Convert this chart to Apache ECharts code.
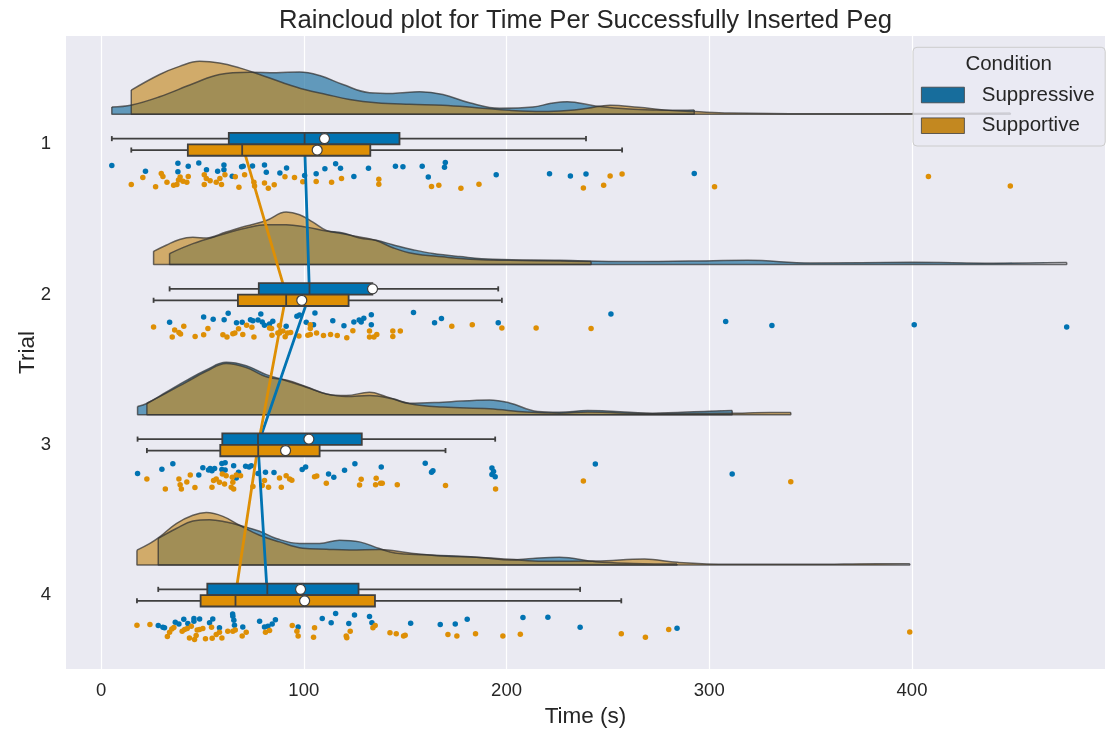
<!DOCTYPE html>
<html>
<head>
<meta charset="utf-8">
<title>Raincloud plot</title>
<script src="https://cdn.jsdelivr.net/npm/echarts@6/dist/echarts.min.js"></script>
<style>
  html, body { margin: 0; padding: 0; background: #ffffff; }
  #chart { width: 1107px; height: 733px; }
</style>
</head>
<body>
<div id="chart"></div>
<script>
// ---- data ---------------------------------------------------------------
const trials = ['1', '2', '3', '4'];
const timeTicks = [0, 100, 200, 300, 400];
const conditions = ['Suppressive', 'Supportive'];

// box statistics per trial: [lower whisker, Q1, median, Q3, upper whisker]
const suppressiveBox = [
  [5.3, 63.0, 100.4, 147.2, 239.2],
  [33.8, 77.8, 102.8, 133.8, 195.9],
  [18.0, 59.8, 77.4, 128.6, 194.4],
  [28.2, 52.4, 82.0, 127.0, 236.3]
];
const supportiveBox = [
  [14.9, 42.8, 69.6, 132.8, 257.0],
  [25.9, 67.5, 91.3, 122.1, 197.7],
  [22.6, 58.8, 77.5, 107.8, 169.9],
  [17.7, 49.1, 66.3, 135.1, 256.6]
];
const suppressiveMean = [110.2, 133.9, 102.5, 98.4];
const supportiveMean = [106.6, 99.0, 91.0, 100.4];

// half-violin density outline per trial: [time, density height in trial units]
const suppressiveCloud = [
  [[5.3,.048],[15.2,.062],[28.9,.117],[45.3,.203],[58.4,.265],[73.2,.280],[86.4,.276],[97.9,.282],[107.8,.258],[119.3,.198],[132.4,.144],[143.9,.139],[157.1,.150],[168.6,.132],[181.7,.077],[196.6,.040],[213.0,.048],[222.0,.073],[230.0,.084],[243.8,.055],[262.6,.033],[281.5,.026],[292.6,.028]],
  [[33.8,.073],[45.3,.139],[58.4,.194],[71.6,.243],[81.5,.265],[91.3,.265],[101.2,.249],[111.1,.223],[119.3,.210],[127.5,.177],[135.7,.161],[143.9,.132],[153.8,.099],[163.7,.073],[176.8,.053],[193.3,.035],[226.1,.028],[260.0,.020],[290.0,.023],[319.0,.028],[350.0,.010],[400.0,.015],[440.0,.009],[476.3,.013]],
  [[18.0,.055],[22.8,.077],[32.1,.150],[41.9,.227],[51.9,.298],[61.7,.349],[71.6,.326],[81.5,.267],[91.3,.227],[101.2,.183],[111.1,.139],[120.9,.121],[132.4,.128],[143.9,.106],[152.2,.077],[168.6,.084],[191.6,.099],[201.5,.079],[215.3,.022],[226.0,.017],[240.0,.028],[272.0,.011],[300.0,.024],[311.3,.028]],
  [[28.2,.177],[37.1,.243],[45.3,.293],[53.5,.302],[61.7,.286],[69.9,.258],[78.2,.225],[86.4,.177],[97.9,.144],[107.8,.144],[117.6,.165],[127.5,.154],[137.3,.110],[145.0,.080],[160.0,.068],[175.0,.060],[190.0,.047],[201.5,.033],[213.0,.044],[226.1,.051],[244.0,.022],[262.6,.011],[284.1,.007]]
];
const supportiveCloud = [
  [[14.9,.161],[28.9,.265],[38.7,.319],[48.6,.353],[58.4,.342],[68.3,.309],[78.2,.265],[89.7,.210],[100.4,.165],[111.1,.132],[122.6,.099],[135.7,.077],[152.2,.066],[168.6,.060],[185.1,.044],[201.5,.026],[217.9,.018],[230.0,.025],[240.0,.040],[251.0,.060],[265.0,.046],[280.0,.026],[292.6,.018],[310.0,.008],[350.0,.003],[400.0,.005],[430.0,.007],[448.5,.008]],
  [[25.9,.088],[32.1,.128],[38.7,.167],[45.3,.181],[51.9,.177],[61.7,.216],[71.6,.256],[81.5,.293],[91.3,.349],[97.9,.331],[104.5,.282],[111.1,.227],[119.3,.205],[127.5,.183],[135.7,.160],[143.9,.112],[153.8,.073],[168.6,.051],[185.1,.033],[201.5,.028],[226.1,.023],[241.7,.020]],
  [[22.6,.077],[32.1,.144],[41.9,.216],[51.9,.289],[61.7,.342],[71.6,.315],[81.5,.253],[91.3,.231],[101.2,.187],[111.1,.139],[120.9,.128],[132.4,.150],[140.6,.121],[152.2,.073],[168.6,.051],[191.6,.040],[209.7,.018],[226.1,.011],[240.0,.018],[272.0,.007],[310.0,.010],[330.0,.015],[340.2,.015]],
  [[17.7,.099],[24.1,.144],[28.9,.187],[37.1,.276],[45.3,.331],[51.9,.349],[60.1,.324],[68.3,.265],[78.2,.198],[88.0,.154],[99.5,.112],[111.1,.105],[122.6,.100],[137.3,.104],[152.2,.080],[168.6,.060],[185.1,.051],[201.5,.038],[217.9,.025],[244.0,.026],[268.0,.040],[284.3,.018],[310.0,.005],[350.0,.005],[383.0,.009],[398.9,.009]]
];

// raw observations per trial: [time, strip jitter in trial units]
const suppressiveRain = [
  [[5.3,.141],[21.9,.179],[37.9,.126],[37.9,.183],[43.0,.146],[48.2,.124],[52.0,.170],[57.5,.179],[60.6,.137],[60.6,.170],[64.7,.212],[69.3,.150],[70.1,.146],[74.7,.144],[80.6,.137],[81.5,.185],[88.2,.190],[91.5,.157],[100.4,.207],[106.1,.196],[110.4,.163],[115.7,.130],[118.1,.159],[124.7,.214],[131.9,.159],[145.2,.146],[148.9,.150],[158.4,.146],[161.4,.218],[169.4,.152],[169.8,.121],[194.9,.203],[221.2,.196],[231.5,.210],[239.2,.198],[292.6,.194]],
  [[33.8,.184],[50.6,.149],[55.3,.164],[60.7,.167],[62.7,.124],[66.8,.187],[69.6,.184],[73.7,.167],[74.9,.175],[77.4,.169],[78.8,.129],[79.5,.182],[80.6,.204],[83.1,.195],[84.7,.177],[91.3,.210],[96.6,.144],[97.9,.136],[101.2,.184],[104.8,.200],[105.5,.122],[114.3,.175],[119.8,.208],[124.7,.182],[127.3,.169],[128.3,.182],[129.6,.157],[133.3,.134],[133.3,.200],[154.1,.120],[164.5,.187],[167.9,.160],[195.9,.188],[251.5,.129],[308.1,.180],[330.9,.206],[401.1,.200],[476.3,.215]],
  [[18.0,.190],[30.0,.163],[35.4,.126],[48.2,.201],[50.2,.152],[53.0,.168],[53.8,.157],[54.7,.172],[56.0,.157],[59.6,.124],[59.6,.165],[61.2,.119],[61.2,.168],[65.4,.139],[66.7,.221],[67.8,.183],[71.3,.142],[73.0,.148],[74.1,.139],[77.4,.190],[81.1,.183],[85.3,.185],[99.2,.165],[100.9,.148],[112.2,.194],[114.8,.216],[120.1,.170],[125.2,.126],[138.2,.148],[159.9,.122],[163.0,.183],[163.7,.172],[192.8,.155],[192.8,.198],[193.6,.177],[194.4,.212],[243.8,.128],[311.3,.194]],
  [[28.2,.202],[30.5,.214],[31.3,.218],[36.6,.181],[38.4,.192],[40.8,.161],[42.8,.189],[45.8,.156],[45.8,.174],[48.6,.159],[53.5,.185],[55.1,.159],[58.4,.218],[64.9,.126],[65.0,.141],[65.5,.167],[65.8,.200],[69.9,.212],[78.2,.174],[80.6,.212],[82.3,.207],[84.4,.192],[86.0,.165],[97.2,.212],[109.1,.156],[113.5,.185],[115.7,.123],[122.2,.189],[125.0,.132],[132.4,.143],[133.6,.185],[152.7,.187],[167.3,.196],[174.7,.192],[180.6,.161],[208.1,.149],[220.4,.147],[236.3,.214],[284.1,.220]]
];
const supportiveRain = [
  [[14.9,.267],[20.6,.220],[26.9,.282],[29.7,.194],[30.5,.214],[32.5,.253],[35.8,.273],[37.4,.267],[38.2,.238],[39.0,.218],[40.4,.245],[42.3,.253],[43.0,.214],[50.9,.203],[50.9,.267],[51.9,.227],[53.8,.243],[56.8,.253],[58.6,.227],[59.4,.267],[61.1,.203],[66.2,.216],[68.0,.286],[70.8,.203],[75.4,.253],[75.7,.278],[80.6,.258],[82.5,.293],[85.4,.269],[90.7,.216],[95.4,.220],[99.5,.249],[106.1,.247],[113.7,.253],[118.6,.227],[137.0,.233],[137.0,.265],[163.0,.280],[166.6,.273],[177.5,.293],[186.4,.265],[237.9,.291],[247.9,.273],[251.1,.210],[257.0,.198],[302.6,.282],[408.1,.214],[448.5,.278]],
  [[25.9,.215],[35.1,.283],[36.3,.235],[38.4,.253],[39.2,.263],[40.8,.210],[46.4,.279],[50.6,.268],[52.7,.226],[60.1,.268],[62.1,.283],[65.0,.261],[66.0,.255],[67.8,.228],[69.9,.266],[71.8,.204],[74.4,.217],[75.4,.283],[83.1,.222],[84.1,.226],[84.3,.270],[87.2,.255],[88.0,.206],[88.0,.255],[89.7,.243],[90.8,.281],[92.0,.255],[93.5,.253],[97.6,.276],[102.0,.270],[103.2,.200],[103.2,.226],[103.2,.266],[106.3,.255],[109.7,.272],[113.2,.266],[116.5,.272],[121.2,.288],[124.2,.241],[132.4,.243],[132.4,.283],[134.6,.283],[136.0,.266],[143.9,.243],[143.9,.279],[147.6,.243],[173.0,.210],[183.1,.200],[197.7,.222],[214.6,.222],[241.7,.226]],
  [[22.6,.228],[31.7,.294],[38.4,.228],[39.0,.265],[39.6,.294],[42.3,.247],[44.0,.201],[46.3,.284],[54.7,.282],[55.5,.238],[56.8,.228],[58.4,.249],[59.8,.194],[60.9,.261],[61.7,.205],[64.2,.282],[64.7,.216],[65.0,.249],[65.4,.294],[66.7,.201],[68.8,.205],[74.9,.278],[79.5,.271],[80.6,.238],[82.6,.282],[88.0,.221],[88.9,.282],[91.3,.205],[93.0,.228],[94.1,.236],[105.3,.212],[106.4,.208],[111.1,.256],[127.5,.267],[128.3,.229],[135.4,.265],[135.7,.223],[137.9,.256],[138.7,.256],[146.1,.265],[169.9,.271],[194.6,.294],[237.9,.241],[340.2,.245]],
  [[17.7,.200],[24.1,.196],[32.7,.275],[33.8,.247],[34.9,.225],[35.9,.216],[40.0,.240],[41.2,.229],[42.5,.222],[43.6,.286],[44.5,.207],[46.1,.295],[46.9,.269],[47.4,.233],[48.6,.229],[50.2,.222],[51.5,.291],[54.5,.214],[54.8,.288],[56.8,.262],[58.4,.247],[59.6,.286],[62.5,.240],[65.0,.240],[66.2,.233],[69.6,.273],[71.6,.247],[81.1,.247],[83.1,.235],[94.3,.202],[96.6,.240],[97.2,.273],[104.8,.280],[105.3,.218],[120.9,.273],[121.2,.284],[122.9,.240],[134.1,.218],[135.2,.202],[142.5,.251],[145.6,.258],[149.2,.273],[150.0,.267],[171.1,.262],[175.5,.273],[184.7,.258],[198.2,.273],[206.8,.260],[256.6,.258],[268.5,.280],[280.0,.229],[398.9,.245]]
];

// ---- styling ------------------------------------------------------------
const FONT = '"Liberation Sans", Arial, Helvetica, sans-serif';
const TEXT = '#262626';
const EDGE = '#3f3f3f';
const OUTLINE = 'rgba(50,50,50,0.72)';
const CLOUD_OFFSET = -0.2;   // cloud baseline relative to the trial row
const BOX_H = 0.076;         // height of one box in trial units
const CAP = 0.017;           // half height of whisker caps

const styles = {
  Suppressive: { point: '#0173b2', box: '#0173b2', cloud: 'rgba(23,109,156,0.65)', patch: '#176d9c', side: -1 },
  Supportive:  { point: '#de8f05', box: '#de8f05', cloud: 'rgba(195,136,32,0.65)', patch: '#c38820', side: 1 }
};
const dataFor = {
  Suppressive: { box: suppressiveBox, mean: suppressiveMean, cloud: suppressiveCloud, rain: suppressiveRain },
  Supportive:  { box: supportiveBox,  mean: supportiveMean,  cloud: supportiveCloud,  rain: supportiveRain }
};

function boxRenderer(side, fill) {
  return function (params, api) {
    const t = api.value(0);
    const lo = api.value(1), q1 = api.value(2), med = api.value(3), q3 = api.value(4), hi = api.value(5);
    const yEdgeA = api.coord([q1, t])[1];
    const yEdgeB = api.coord([q1, t + side * BOX_H])[1];
    const y1 = Math.min(yEdgeA, yEdgeB), y2 = Math.max(yEdgeA, yEdgeB);
    const yMid = (y1 + y2) / 2;
    const cap = Math.abs(api.coord([0, t + CAP])[1] - api.coord([0, t])[1]);
    const xLo = api.coord([lo, t])[0], xQ1 = api.coord([q1, t])[0];
    const xMed = api.coord([med, t])[0], xQ3 = api.coord([q3, t])[0], xHi = api.coord([hi, t])[0];
    const ls = { stroke: EDGE, lineWidth: 1.8 };
    return {
      type: 'group',
      children: [
        { type: 'line', shape: { x1: xLo, y1: yMid, x2: xQ1, y2: yMid }, style: ls },
        { type: 'line', shape: { x1: xQ3, y1: yMid, x2: xHi, y2: yMid }, style: ls },
        { type: 'line', shape: { x1: xLo, y1: yMid - cap, x2: xLo, y2: yMid + cap }, style: ls },
        { type: 'line', shape: { x1: xHi, y1: yMid - cap, x2: xHi, y2: yMid + cap }, style: ls },
        { type: 'rect', shape: { x: xQ1, y: y1, width: xQ3 - xQ1, height: y2 - y1 }, style: { fill: fill, stroke: EDGE, lineWidth: 1.8 } },
        { type: 'line', shape: { x1: xMed, y1: y1, x2: xMed, y2: y2 }, style: ls }
      ]
    };
  };
}

const series = [];

// clouds: density outline with filled area down to the cloud baseline
conditions.forEach(function (cond) {
  const st = styles[cond], d = dataFor[cond];
  d.cloud.forEach(function (pts, t) {
    const base = t + CLOUD_OFFSET;
    const curve = pts.map(function (p) { return [p[0], base - p[1]]; });
    series.push({
      name: cond, type: 'line', data: curve, smooth: 0.4,
      symbol: 'none', silent: true, z: 1,
      lineStyle: { color: OUTLINE, width: 1.5 },
      itemStyle: { color: st.patch },
      areaStyle: { color: st.cloud, opacity: 1, origin: base }
    });
    const first = curve[0], last = curve[curve.length - 1];
    series.push({
      type: 'line', data: [first, [first[0], base], [last[0], base], last],
      symbol: 'none', silent: true, z: 1,
      lineStyle: { color: OUTLINE, width: 1.5 }
    });
  });
});

// rain: jittered raw observations
conditions.forEach(function (cond) {
  const st = styles[cond], d = dataFor[cond];
  const pts = [];
  d.rain.forEach(function (row, t) {
    row.forEach(function (p) { pts.push([p[0], t + p[1]]); });
  });
  series.push({
    type: 'scatter', data: pts, symbolSize: 5.5, silent: true, z: 2,
    itemStyle: { color: st.point, opacity: 1 }
  });
});

// lines joining the medians across trials
conditions.forEach(function (cond) {
  const st = styles[cond], d = dataFor[cond];
  series.push({
    type: 'line', data: d.box.map(function (b, t) { return [b[2], t]; }),
    symbol: 'none', silent: true, z: 3,
    lineStyle: { color: st.point, width: 2.8 }
  });
});

// boxes and means
conditions.forEach(function (cond) {
  const st = styles[cond], d = dataFor[cond];
  series.push({
    type: 'custom', silent: true, z: 4,
    renderItem: boxRenderer(st.side, st.box),
    data: d.box.map(function (b, t) { return [t].concat(b); }),
    encode: { x: [1, 2, 3, 4, 5], y: 0 }
  });
  series.push({
    type: 'scatter', silent: true, z: 5, symbolSize: 10,
    data: d.mean.map(function (m, t) { return [m, t + st.side * BOX_H / 2]; }),
    itemStyle: { color: '#ffffff', borderColor: EDGE, borderWidth: 1.2, opacity: 1 }
  });
});

const option = {
  animation: false,
  backgroundColor: '#ffffff',
  textStyle: { fontFamily: FONT, color: TEXT },
  grid: { left: 66, right: 2, top: 36, bottom: 60, show: true, backgroundColor: '#eaeaf2', borderWidth: 0 },
  xAxis: {
    type: 'value', min: -17.3, max: 495.2,
    name: 'Time (s)', nameLocation: 'middle', nameGap: 36, nameMoveOverlap: false,
    nameTextStyle: { fontSize: 22.5, color: TEXT, fontFamily: FONT },
    axisLine: { show: false },
    axisTick: { show: false, customValues: timeTicks },
    axisLabel: { customValues: timeTicks, fontSize: 18.5, color: TEXT, fontFamily: FONT, margin: 12 },
    splitLine: { show: true, lineStyle: { color: '#ffffff', width: 1.2 } }
  },
  yAxis: {
    type: 'value', inverse: true, min: -0.721, max: 3.492,
    name: 'Trial', nameLocation: 'middle', nameGap: 27, nameMoveOverlap: false,
    nameTextStyle: { fontSize: 22.5, color: TEXT, fontFamily: FONT },
    axisLine: { show: false },
    axisTick: { show: false, customValues: [0, 1, 2, 3] },
    axisLabel: {
      customValues: [0, 1, 2, 3], fontSize: 18.5, color: TEXT, fontFamily: FONT, margin: 15,
      formatter: function (v) { return trials[Math.round(v)]; }
    },
    splitLine: { show: false }
  },
  legend: {
    left: 913, top: 47.3, orient: 'vertical', icon: 'rect', z: 6,
    itemWidth: 43, itemHeight: 15.6, itemGap: 9.7,
    padding: [37.2, 10.6, 9.8, 8],
    backgroundColor: 'rgba(234,234,242,0.8)', borderColor: '#cccccc', borderWidth: 1, borderRadius: 4,
    selectedMode: false,
    textStyle: { fontSize: 20.5, color: TEXT, fontFamily: FONT, lineHeight: 20, padding: [0, 0, 0, 12.4] },
    data: conditions.map(function (c) {
      return { name: c, itemStyle: { color: styles[c].patch, borderColor: EDGE, borderWidth: 0.8 } };
    })
  },
  graphic: [
    {
      type: 'text', x: 585.5, y: 21, z: 10,
      style: { text: 'Raincloud plot for Time Per Successfully Inserted Peg', fill: TEXT,
               font: '25.7px ' + FONT, align: 'center', verticalAlign: 'middle' }
    },
    {
      type: 'text', x: 1008.7, y: 64, z: 10,
      style: { text: 'Condition', fill: TEXT, font: '20.5px ' + FONT, align: 'center', verticalAlign: 'middle' }
    }
  ],
  series: series
};

const chart = echarts.init(document.getElementById('chart'), null, { renderer: 'canvas' });
chart.setOption(option);
</script>
</body>
</html>
